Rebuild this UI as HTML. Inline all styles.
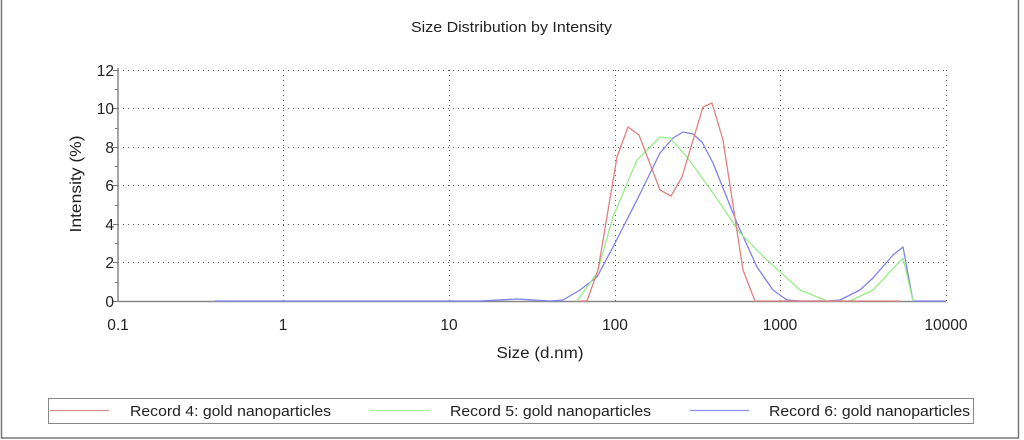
<!DOCTYPE html>
<html><head><meta charset="utf-8"><style>
html,body{margin:0;padding:0;background:#fff;}
svg{display:block;font-family:"Liberation Sans",Arial,sans-serif;}
</style></head><body>
<svg width="1024" height="440" viewBox="0 0 1024 440" xmlns="http://www.w3.org/2000/svg">
<rect x="1.5" y="-2" width="1017" height="440" fill="#fff" stroke="#777" stroke-width="1.5"/>
<text x="411" y="32" font-size="14.5" textLength="201" lengthAdjust="spacingAndGlyphs" fill="#222">Size Distribution by Intensity</text>
<g stroke="#555" stroke-width="1" stroke-dasharray="1,4" fill="none">
<line x1="118" y1="70.5" x2="946" y2="70.5"/>
<line x1="118" y1="108.5" x2="946" y2="108.5"/>
<line x1="118" y1="147.5" x2="946" y2="147.5"/>
<line x1="118" y1="185.5" x2="946" y2="185.5"/>
<line x1="118" y1="224.5" x2="946" y2="224.5"/>
<line x1="118" y1="262.5" x2="946" y2="262.5"/>
<line x1="283.5" y1="70" x2="283.5" y2="301"/>
<line x1="449.5" y1="70" x2="449.5" y2="301"/>
<line x1="615.5" y1="70" x2="615.5" y2="301"/>
<line x1="780.5" y1="70" x2="780.5" y2="301"/>
<line x1="946.5" y1="70" x2="946.5" y2="301"/>
</g>
<g stroke="#888" stroke-width="1.5">
<line x1="118" y1="68" x2="118" y2="302"/>
<line x1="118" y1="301.5" x2="946" y2="301.5"/>
</g>
<g stroke="#777" stroke-width="1">
<line x1="113" y1="70.5" x2="118" y2="70.5"/><line x1="115" y1="89.5" x2="118" y2="89.5"/>
<line x1="113" y1="108.5" x2="118" y2="108.5"/><line x1="115" y1="128.5" x2="118" y2="128.5"/>
<line x1="113" y1="147.5" x2="118" y2="147.5"/><line x1="115" y1="166.5" x2="118" y2="166.5"/>
<line x1="113" y1="185.5" x2="118" y2="185.5"/><line x1="115" y1="205.5" x2="118" y2="205.5"/>
<line x1="113" y1="224.5" x2="118" y2="224.5"/><line x1="115" y1="243.5" x2="118" y2="243.5"/>
<line x1="113" y1="262.5" x2="118" y2="262.5"/><line x1="115" y1="282.5" x2="118" y2="282.5"/>
<line x1="113" y1="301.5" x2="118" y2="301.5"/>
</g>
<g id="xt" stroke="#777" stroke-width="1"></g>
<g font-size="15.5" fill="#222" text-anchor="end">
<text x="114" y="76">12</text><text x="114" y="114">10</text><text x="114" y="153">8</text>
<text x="114" y="191">6</text><text x="114" y="230">4</text><text x="114" y="268">2</text><text x="114" y="307">0</text>
</g>
<g font-size="15.5" fill="#222" text-anchor="middle">
<text x="118" y="330">0.1</text><text x="283" y="330">1</text><text x="449" y="330">10</text>
<text x="615" y="330">100</text><text x="780" y="330">1000</text><text x="946" y="330">10000</text>
<text x="540" y="358" textLength="87" lengthAdjust="spacingAndGlyphs">Size (d.nm)</text>
<text transform="translate(81,184) rotate(-90)" textLength="97" lengthAdjust="spacingAndGlyphs">Intensity (%)</text>
</g>
<g fill="none" stroke-width="1.3" stroke-linejoin="round">
<polyline stroke="#8080ee" points="215,301 480,301 517,299 550,301 563,300 580,290 597,277 613,247 637,200 660,153 673,138 683,132 693,134 702,142 713,163 737,223 757,267 773,290 787,300 800,301 827,301 840,300 860,290 873,278 893,255 903,247 913,301 946,301"/>
<polyline stroke="#99ee88" points="577,301 597,273 613,217 637,160 660,137 670,138 687,157 713,193 740,233 767,260 800,290 827,301 850,301 873,290 903,258 913,301"/>
<polyline stroke="#e08080" points="580,301 587,301 598,270 617,157 628,127 639,135 660,190 671,196 682,177 703,107 712,103 723,140 743,270 755,301 900,301"/>
</g>
<rect x="48.5" y="398.5" width="925" height="25" fill="#fff" stroke="#888"/>
<g stroke-width="1.2">
<line x1="50" y1="410.5" x2="109" y2="410.5" stroke="#d09090"/>
<line x1="370" y1="410.5" x2="430" y2="410.5" stroke="#aaee99"/>
<line x1="690" y1="410.5" x2="749" y2="410.5" stroke="#9090ee"/>
</g>
<g font-size="15" fill="#222">
<text x="130" y="416" textLength="201" lengthAdjust="spacingAndGlyphs">Record 4: gold nanoparticles</text>
<text x="450" y="416" textLength="201" lengthAdjust="spacingAndGlyphs">Record 5: gold nanoparticles</text>
<text x="769" y="416" textLength="201" lengthAdjust="spacingAndGlyphs">Record 6: gold nanoparticles</text>
</g>
<script>
(function(){var g=document.getElementById('xt'),s='';
for(var d=0;d<5;d++){for(var m=1;m<10;m++){var x=118+165.6*(d+Math.log10(m));var h=m==1?5:3;
s+='<line x1="'+x.toFixed(1)+'" y1="301" x2="'+x.toFixed(1)+'" y2="'+(301+h)+'"/>';}}
s+='<line x1="946" y1="301" x2="946" y2="306"/>';g.innerHTML=s;})();
</script>
</svg>
</body></html>
